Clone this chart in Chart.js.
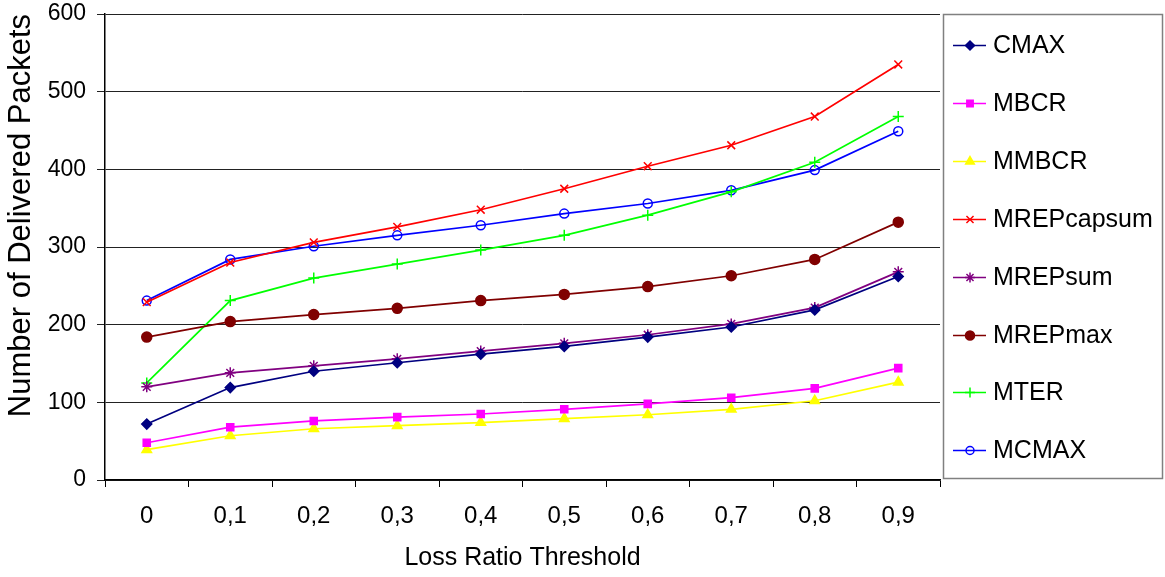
<!DOCTYPE html>
<html>
<head>
<meta charset="utf-8">
<script src="https://cdn.jsdelivr.net/npm/chart.js@4/dist/chart.umd.min.js"></script>
<style>
html,body{margin:0;padding:0;background:#fff;}
#wrap{position:relative;width:1165px;height:577px;}
</style>
</head>
<body>
<div id="wrap"><canvas id="c" width="1165" height="577"></canvas></div>
<script>
const categories = ['0','0,1','0,2','0,3','0,4','0,5','0,6','0,7','0,8','0,9'];
const seriesNames = ['CMAX','MBCR','MMBCR','MREPcapsum','MREPsum','MREPmax','MTER','MCMAX'];
const CMAX       = [72, 119, 140, 151, 162, 172, 184, 197, 219, 262];
const MBCR       = [48, 68, 76, 81, 85, 91, 98, 106, 118, 144];
const MMBCR      = [39, 57, 66, 70, 74, 79, 84, 91, 102, 126];
const MREPcapsum = [229, 280, 306, 326, 348, 375, 404, 431, 468, 535];
const MREPsum    = [120, 138, 147, 156, 166, 176, 187, 201, 222, 268];
const MREPmax    = [184, 204, 213, 221, 231, 239, 249, 263, 284, 332];
const MTER       = [125, 231, 260, 278, 296, 315, 341, 371, 409, 468];
const MCMAX      = [231, 284, 301, 315, 328, 343, 356, 373, 399, 449];
const yTicks     = [0, 100, 200, 300, 400, 500, 600];

const seriesValues = [CMAX, MBCR, MMBCR, MREPcapsum, MREPsum, MREPmax, MTER, MCMAX];
const colors  = ['#000080','#FF00FF','#FFFF00','#FF0000','#800080','#800000','#00FF00','#0000FF'];
const styles  = ['rectRot','rect','triangle','crossRot','star','circle','cross','circle'];
const radii   = [5, 5, 5.5, 5.5, 5.5, 5, 5.5, 4.5];
const fills   = [true, true, true, false, false, true, false, false];

const FONT = "'Liberation Sans', Arial, sans-serif";

const datasets = seriesNames.map((n, i) => ({
  label: n,
  data: seriesValues[i],
  borderColor: colors[i],
  backgroundColor: fills[i] ? colors[i] : 'rgba(0,0,0,0)',
  pointStyle: styles[i],
  pointRadius: radii[i],
  pointBorderWidth: 1.5,
  pointBorderColor: colors[i],
  pointBackgroundColor: fills[i] ? colors[i] : 'rgba(0,0,0,0)',
  borderWidth: 1.7,
  tension: 0,
  fill: false
}));

const legendPlugin = {
  id: 'boxLegend',
  afterDraw(chart) {
    const ctx = chart.ctx;
    ctx.save();
    ctx.strokeStyle = '#808080';
    ctx.lineWidth = 1.5;
    ctx.strokeRect(943.5, 14.5, 219, 464);
    ctx.font = '25px ' + FONT;
    ctx.textBaseline = 'middle';
    ctx.textAlign = 'left';
    const y0 = 45, step = 57.9;
    seriesNames.forEach((n, i) => {
      const y = Math.round(y0 + i * step) + 0.5;
      ctx.strokeStyle = colors[i];
      ctx.lineWidth = 1.7;
      ctx.beginPath();
      ctx.moveTo(953, y);
      ctx.lineTo(986, y);
      ctx.stroke();
      ctx.fillStyle = fills[i] ? colors[i] : 'rgba(0,0,0,0)';
      ctx.strokeStyle = colors[i];
      ctx.lineWidth = 1.5;
      Chart.helpers.drawPoint(ctx, {pointStyle: styles[i], radius: radii[i] - 0.5, rotation: 0, borderWidth: 1.5}, 970, y);
      ctx.fillStyle = '#000';
      ctx.fillText(n, 993, y + 1);
    });
    ctx.restore();
  }
};

new Chart(document.getElementById('c'), {
  type: 'line',
  data: { labels: categories, datasets },
  options: {
    responsive: false,
    animation: false,
    devicePixelRatio: 1,
    layout: { padding: { left: 0, top: 14, right: 225, bottom: 0 } },
    plugins: { legend: { display: false }, tooltip: { enabled: false } },
    scales: {
      x: {
        type: 'category',
        offset: true,
        grid: { display: true, drawOnChartArea: false, drawTicks: true, tickLength: 7, offset: true, color: '#000', lineWidth: 1 },
        border: { display: true, color: '#000', width: 1.5 },
        ticks: { color: '#000', font: { family: FONT, size: 24 }, padding: 15, maxRotation: 0, autoSkip: false },
        title: { display: true, text: 'Loss Ratio Threshold', color: '#000', font: { family: FONT, size: 25 }, padding: { top: 6, bottom: 4 } },
        afterFit(s) { s.height = 97; s.paddingLeft = 0; s.paddingRight = 0; }
      },
      y: {
        min: 0, max: 600,
        afterBuildTicks(s) { s.ticks = yTicks.map(v => ({ value: v })); },
        grid: { display: true, color: '#222', lineWidth: 1, tickLength: 8, drawTicks: true },
        border: { display: true, color: '#000', width: 1.5 },
        ticks: { color: '#000', font: { family: FONT, size: 23 }, padding: 11 },
        title: { display: true, text: 'Number of Delivered Packets', align: 'end', color: '#000', font: { family: FONT, size: 31 }, padding: { top: 3, bottom: 4 } },
        afterFit(s) { s.width = 105; s.paddingTop = 0; s.paddingBottom = 0; }
      }
    }
  },
  plugins: [legendPlugin]
});
</script>
</body>
</html>
